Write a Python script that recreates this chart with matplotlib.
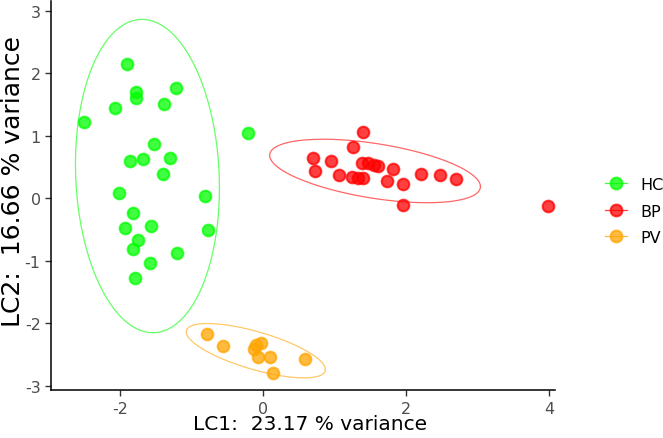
import numpy as np
import matplotlib.pyplot as plt
from matplotlib.lines import Line2D

plt.rcParams['axes.unicode_minus'] = False

# LC scores
hc_x = [-1.91, -1.78, -1.78, -1.22, -2.08, -1.39, -2.51, -0.21, -1.53, -1.87, -1.69, -1.31,
        -1.40, -2.02, -0.82, -1.82, -1.94, -1.57, -0.78, -1.76, -1.83, -1.21, -1.58, -1.80]
hc_y = [2.15, 1.70, 1.61, 1.77, 1.44, 1.51, 1.22, 1.04, 0.87, 0.59, 0.63, 0.65,
        0.39, 0.08, 0.04, -0.24, -0.48, -0.44, -0.50, -0.67, -0.81, -0.88, -1.04, -1.27]
bp_x = [1.40, 1.25, 0.70, 0.94, 0.73, 1.06, 1.38, 1.47, 1.55, 1.60, 1.81, 1.24, 1.33,
        1.40, 1.73, 1.96, 2.21, 2.47, 2.69, 1.95, 3.99]
bp_y = [1.06, 0.82, 0.64, 0.59, 0.43, 0.37, 0.57, 0.56, 0.54, 0.52, 0.47, 0.34, 0.32,
        0.33, 0.28, 0.23, 0.39, 0.38, 0.31, -0.10, -0.12]
pv_x = [-0.79, -0.57, -0.10, -0.03, -0.13, -0.08, 0.09, 0.58, 0.13]
pv_y = [-2.17, -2.36, -2.35, -2.32, -2.41, -2.54, -2.54, -2.57, -2.80]

groups = ['HC', 'BP', 'PV']
colors = ['#00FF00', '#FF0000', '#FFA500']
xs = [hc_x, bp_x, pv_x]
ys = [hc_y, bp_y, pv_y]


def cov_trob(x, nu=5, maxit=25, tol=0.01):
    # robust t covariance, same idea as MASS::cov.trob
    n, p = x.shape
    loc = x.mean(axis=0)
    w = np.ones(n)
    for _ in range(maxit):
        w0 = w
        X = x - loc
        sw = np.sqrt(w / w.sum())
        _, d, vt = np.linalg.svd(sw[:, None] * X, full_matrices=False)
        wX = X @ vt.T @ np.diag(1 / d)
        Q = (wX ** 2).sum(axis=1)
        w = (nu + p) / (nu + Q)
        loc = (w[:, None] * x).sum(axis=0) / w.sum()
        if np.all(np.abs(w - w0) < tol):
            break
    Xw = np.sqrt(w)[:, None] * X
    return loc, Xw.T @ Xw / n


def ellipse(x, y, level=0.95, seg=200):
    pts = np.column_stack([x, y])
    center, shape = cov_trob(pts)
    R = np.linalg.cholesky(shape).T
    d2 = len(x) - 1
    f = d2 / 2 * ((1 - level) ** (-2 / d2) - 1)
    radius = np.sqrt(2 * f)
    a = np.linspace(0, 2 * np.pi, seg)
    circ = np.column_stack([np.cos(a), np.sin(a)])
    e = center + radius * circ @ R
    return e[:, 0], e[:, 1]


fig = plt.figure(figsize=(6.63, 4.39), dpi=100)
ax = fig.add_axes([0.077, 0.109, 0.76, 0.887])

for g, c, x, y in zip(groups, colors, xs, ys):
    ax.scatter(x, y, s=70, color=c, alpha=0.75, linewidths=1.5, zorder=3)
    ex, ey = ellipse(np.array(x), np.array(y))
    ax.plot(ex, ey, color=c, lw=0.9, alpha=0.6, zorder=2)

ax.set_xlim(-2.97, 4.08)
ax.set_ylim(-3.07, 3.16)
ax.set_xticks([-2, 0, 2, 4])
ax.set_yticks([-3, -2, -1, 0, 1, 2, 3])
for s in ['top', 'right']:
    ax.spines[s].set_visible(False)
for s in ['left', 'bottom']:
    ax.spines[s].set_linewidth(1.1)
ax.tick_params(length=4, width=1, colors='#333333', labelcolor='#4D4D4D', labelsize=11.5)

ax.set_xlabel('LC1:  23.17 % variance', fontsize=14.5)
ax.set_ylabel('LC2:  16.66 % variance', fontsize=18)
ax.xaxis.set_label_coords(0.514, -0.062)
ax.yaxis.set_label_coords(-0.052, 0.539)

handles = [Line2D([], [], color=c, marker='o', markersize=8.5, markeredgewidth=1.5,
                  alpha=0.75, lw=0.9) for c in colors]
fig.legend(handles, groups, loc='center left', bbox_to_anchor=(0.891, 0.517),
           frameon=False, fontsize=11.5, handlelength=1.4, labelspacing=0.72)

fig.savefig('out.png', dpi=100)
